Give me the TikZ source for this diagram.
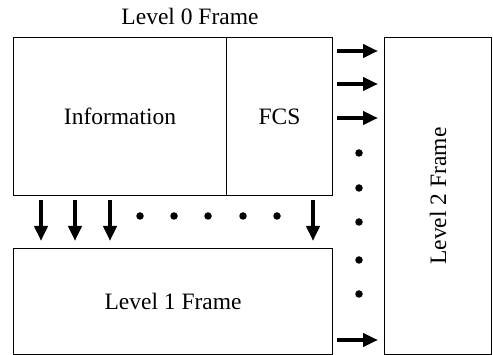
\documentclass[tikz,border=0pt]{standalone}
\usepackage{fontspec}
\setmainfont{Liberation Serif}
\usetikzlibrary{arrows.meta}
\begin{document}
\begin{tikzpicture}[x=1pt,y=-1pt,
  frame/.style={draw=black, line width=1.1pt},
  lbl/.style={font=\fontsize{23.5}{26}\selectfont, inner sep=0pt},
  bigarrow/.style={line width=4.5pt, -{Triangle[length=15pt,width=13pt]}},
  dotmark/.style={circle, fill=black, inner sep=0pt, minimum size=7.5pt}]
  \useasboundingbox (0,0) rectangle (493,355);
  % level 0 frame with its information and FCS fields
  \node[frame, minimum width=213pt, minimum height=158pt, inner sep=0pt, anchor=north west] (info) at (13,37) {};
  \node[frame, minimum width=106pt, minimum height=158pt, inner sep=0pt, anchor=north west] (fcs) at (226,37) {};
  \node[lbl] (infotxt) at (info.center) {Information};
  \node[lbl] (fcstxt) at (fcs.center) {FCS};
  \node[lbl] (t0) at (190,16) {Level 0 Frame};
  % level 1 frame
  \node[frame, minimum width=319pt, minimum height=106pt, inner sep=0pt, anchor=north west] (l1) at (13,248) {};
  \node[lbl] (l1txt) at (l1.center) {Level 1 Frame};
  % level 2 frame
  \node[frame, minimum width=107pt, minimum height=317pt, inner sep=0pt, anchor=north west] (l2) at (384,37) {};
  \node[lbl, rotate=90] (l2txt) at (l2.center) {Level 2 Frame};
  % downward arrows from level 0 to level 1
  \foreach \i/\x in {1/41,2/75,3/110,4/313} {
    \coordinate (ds\i) at (\x,200);
    \coordinate (de\i) at (\x,241);
    \draw[bigarrow] (ds\i) -- (de\i);
  }
  \foreach \i/\x in {1/140,2/174,3/208,4/243,5/277}
    \node[dotmark] (hd\i) at (\x,216) {};
  % arrows into level 2
  \foreach \i/\y in {1/51,2/84,3/118,4/340} {
    \coordinate (rs\i) at (337,\y);
    \coordinate (re\i) at (378,\y);
    \draw[bigarrow] (rs\i) -- (re\i);
  }
  \foreach \i/\y in {1/153,2/188,3/222,4/260,5/294}
    \node[dotmark] (vd\i) at (359,\y) {};
\end{tikzpicture}
\end{document}
